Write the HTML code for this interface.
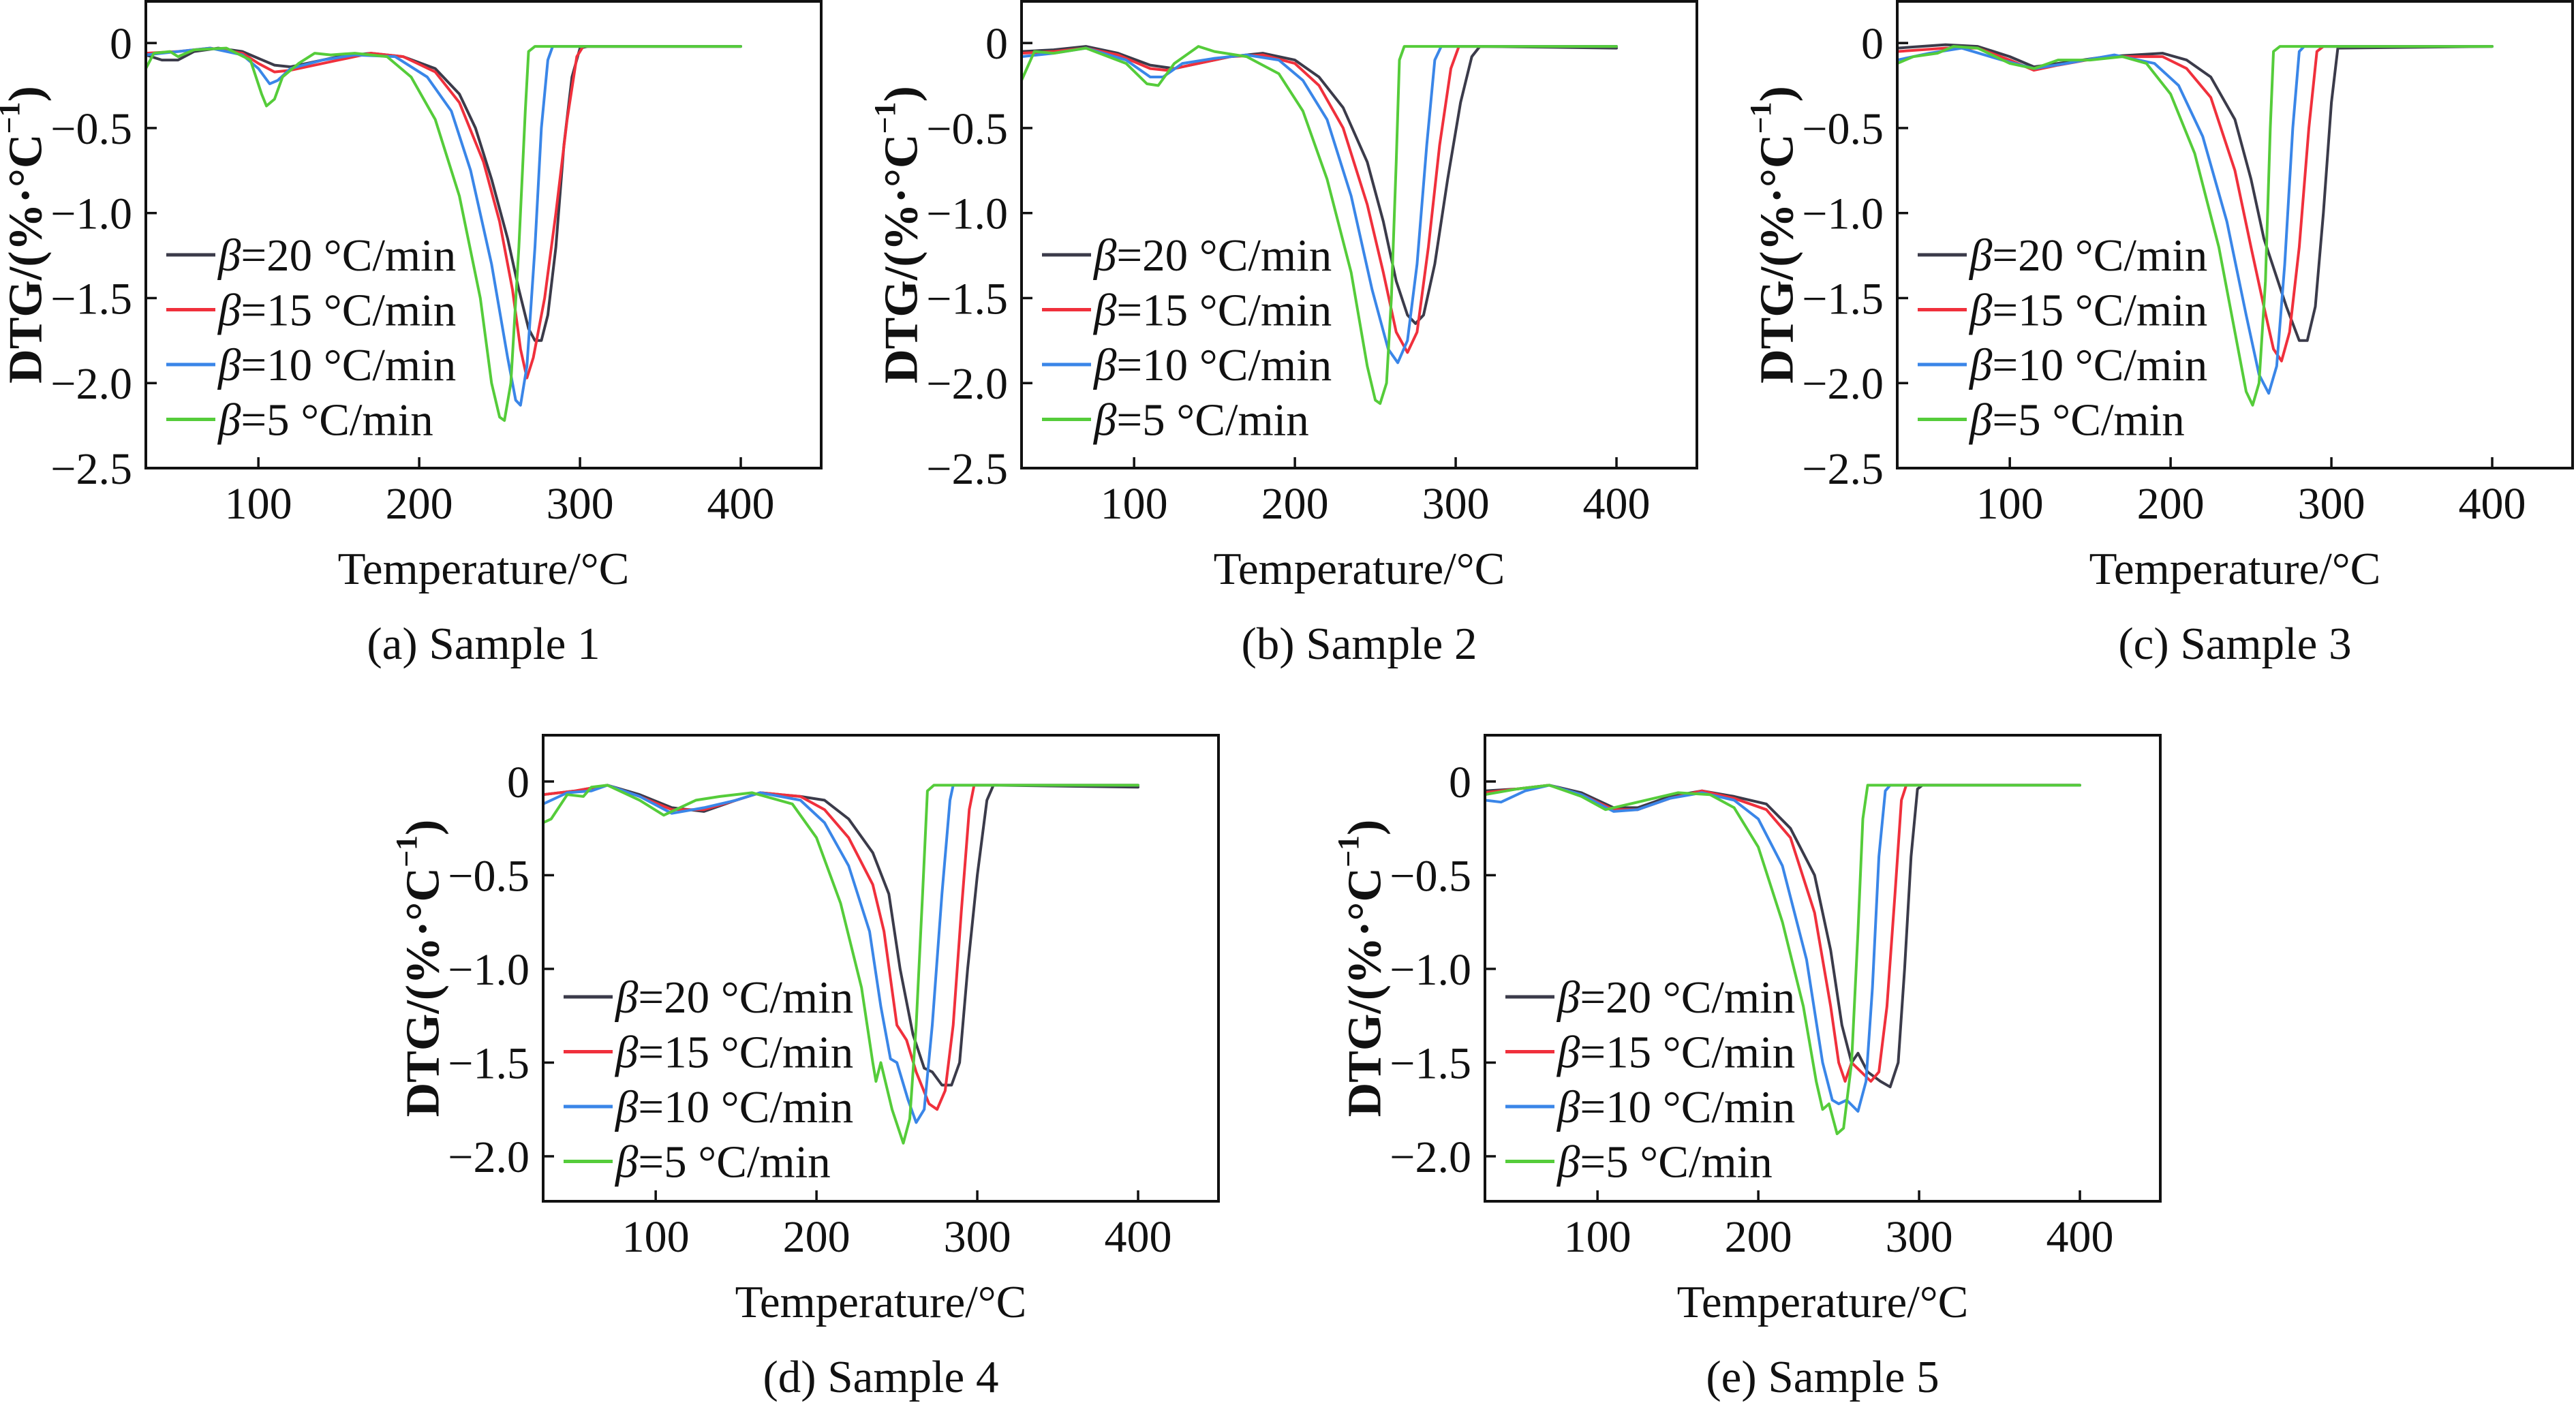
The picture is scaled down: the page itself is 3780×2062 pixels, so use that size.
<!DOCTYPE html>
<html><head><meta charset="utf-8"><title>DTG curves</title>
<style>
html,body{margin:0;padding:0;background:#fff;}
svg{display:block;}
text{font-family:"Liberation Serif",serif;fill:#111;}
</style></head>
<body>
<svg id="fig" width="3780" height="2062" viewBox="0 0 3780 2062" xmlns="http://www.w3.org/2000/svg"></svg>
<script>
// ---- data: [temperature °C, DTG %/°C] ----
const betaLabels = ["20", "15", "10", "5"];
const seriesColors = ["#3b3b4a", "#f0303c", "#3a86e8", "#55cc3a"];
const xTicks = [100, 200, 300, 400];
const yTicksABC = [0, -0.5, -1.0, -1.5, -2.0, -2.5];
const yTicksDE = [0, -0.5, -1.0, -1.5, -2.0];

const s1_b20 = [[30,-0.07],[40,-0.1],[50,-0.1],[60,-0.05],[75,-0.03],[90,-0.05],[100,-0.09],[110,-0.13],[120,-0.14],[135,-0.11],[150,-0.08],[170,-0.06],[190,-0.08],[210,-0.15],[225,-0.3],[235,-0.5],[245,-0.8],[255,-1.15],[262,-1.45],[268,-1.68],[272,-1.75],[276,-1.75],[280,-1.6],[285,-1.2],[290,-0.6],[295,-0.2],[300,-0.03],[305,-0.02],[400,-0.02]];
const s1_b15 = [[30,-0.06],[50,-0.05],[70,-0.03],[90,-0.06],[100,-0.12],[110,-0.17],[120,-0.16],[135,-0.13],[150,-0.1],[170,-0.06],[190,-0.08],[210,-0.17],[225,-0.35],[240,-0.7],[250,-1.05],[258,-1.45],[263,-1.8],[267,-1.97],[271,-1.85],[278,-1.5],[285,-1.0],[292,-0.45],[298,-0.08],[302,-0.02],[400,-0.02]];
const s1_b10 = [[30,-0.07],[50,-0.05],[70,-0.03],[90,-0.07],[100,-0.15],[107,-0.24],[112,-0.22],[120,-0.15],[140,-0.1],[160,-0.07],[185,-0.08],[205,-0.2],[220,-0.4],[232,-0.75],[245,-1.3],[255,-1.85],[260,-2.1],[263,-2.13],[267,-1.9],[272,-1.2],[276,-0.5],[280,-0.1],[283,-0.02],[400,-0.02]];
const s1_b5 = [[30,-0.15],[35,-0.06],[45,-0.05],[50,-0.08],[60,-0.04],[80,-0.03],[95,-0.1],[102,-0.3],[105,-0.37],[110,-0.33],[115,-0.2],[125,-0.12],[135,-0.06],[145,-0.07],[160,-0.06],[180,-0.08],[195,-0.2],[210,-0.45],[225,-0.9],[238,-1.5],[245,-2.0],[250,-2.2],[253,-2.22],[257,-2.0],[262,-1.2],[266,-0.4],[268,-0.05],[272,-0.02],[400,-0.02]];

const s2_b20 = [[30,-0.05],[50,-0.04],[70,-0.02],[90,-0.06],[110,-0.13],[125,-0.15],[140,-0.12],[160,-0.08],[180,-0.06],[200,-0.1],[215,-0.2],[230,-0.38],[245,-0.7],[255,-1.05],[263,-1.4],[270,-1.6],[275,-1.65],[280,-1.6],[287,-1.3],[295,-0.8],[303,-0.35],[310,-0.08],[315,-0.02],[400,-0.03]];
const s2_b15 = [[30,-0.06],[50,-0.05],[70,-0.03],[90,-0.07],[110,-0.15],[120,-0.16],[140,-0.12],[160,-0.08],[180,-0.07],[200,-0.12],[215,-0.25],[230,-0.5],[245,-0.95],[255,-1.35],[263,-1.7],[270,-1.82],[276,-1.7],[283,-1.2],[290,-0.6],[297,-0.15],[302,-0.02],[400,-0.02]];
const s2_b10 = [[30,-0.08],[50,-0.06],[70,-0.03],[95,-0.1],[110,-0.2],[118,-0.2],[130,-0.12],[150,-0.09],[170,-0.07],[190,-0.1],[205,-0.22],[220,-0.45],[235,-0.9],[248,-1.45],[258,-1.8],[264,-1.88],[270,-1.75],[276,-1.3],[282,-0.6],[287,-0.1],[291,-0.02],[400,-0.02]];
const s2_b5 = [[30,-0.22],[38,-0.05],[50,-0.06],[70,-0.03],[95,-0.12],[108,-0.24],[115,-0.25],[125,-0.12],[140,-0.02],[150,-0.05],[170,-0.08],[190,-0.18],[205,-0.4],[220,-0.8],[235,-1.35],[245,-1.9],[250,-2.1],[253,-2.12],[257,-2.0],[260,-1.5],[263,-0.7],[265,-0.1],[268,-0.02],[400,-0.02]];

const s3_b20 = [[30,-0.03],[60,-0.01],[80,-0.02],[100,-0.08],[115,-0.14],[130,-0.12],[160,-0.08],[195,-0.06],[210,-0.1],[225,-0.2],[240,-0.45],[250,-0.8],[258,-1.15],[265,-1.35],[272,-1.55],[280,-1.75],[285,-1.75],[290,-1.55],[295,-1.0],[300,-0.35],[304,-0.03],[400,-0.02]];
const s3_b15 = [[30,-0.05],[60,-0.03],[80,-0.03],[100,-0.1],[115,-0.16],[130,-0.13],[160,-0.08],[195,-0.08],[210,-0.15],[225,-0.32],[240,-0.75],[250,-1.2],[258,-1.55],[264,-1.8],[269,-1.87],[274,-1.7],[280,-1.2],[286,-0.5],[291,-0.05],[295,-0.02],[400,-0.02]];
const s3_b10 = [[30,-0.1],[50,-0.06],[70,-0.03],[95,-0.1],[115,-0.15],[135,-0.12],[165,-0.07],[190,-0.12],[205,-0.25],[220,-0.55],[235,-1.05],[247,-1.6],[255,-1.95],[261,-2.06],[266,-1.9],[271,-1.3],[276,-0.5],[280,-0.05],[283,-0.02],[400,-0.02]];
const s3_b5 = [[30,-0.12],[40,-0.08],[55,-0.06],[65,-0.02],[80,-0.03],[100,-0.12],[115,-0.15],[130,-0.1],[150,-0.1],[170,-0.08],[185,-0.12],[200,-0.3],[215,-0.65],[230,-1.2],[240,-1.7],[247,-2.05],[251,-2.13],[255,-2.0],[259,-1.4],[262,-0.5],[264,-0.05],[268,-0.02],[400,-0.02]];

const s4_b20 = [[30,-0.07],[50,-0.05],[70,-0.02],[90,-0.07],[110,-0.14],[130,-0.16],[150,-0.1],[165,-0.06],[190,-0.08],[205,-0.1],[220,-0.2],[235,-0.38],[245,-0.6],[252,-1.0],[260,-1.35],[267,-1.53],[272,-1.55],[278,-1.62],[284,-1.62],[289,-1.5],[294,-1.0],[300,-0.5],[306,-0.1],[310,-0.02],[400,-0.03]];
const s4_b15 = [[30,-0.07],[50,-0.05],[70,-0.02],[90,-0.08],[110,-0.15],[130,-0.15],[150,-0.1],[165,-0.06],[190,-0.08],[205,-0.15],[220,-0.3],[235,-0.55],[242,-0.8],[250,-1.3],[256,-1.38],[262,-1.55],[270,-1.72],[275,-1.75],[280,-1.65],[285,-1.3],[290,-0.7],[295,-0.15],[298,-0.02],[400,-0.02]];
const s4_b10 = [[30,-0.12],[45,-0.06],[60,-0.05],[70,-0.02],[90,-0.08],[110,-0.17],[130,-0.14],[150,-0.1],[165,-0.06],[190,-0.1],[205,-0.22],[220,-0.45],[233,-0.8],[240,-1.2],[246,-1.48],[250,-1.5],[257,-1.7],[262,-1.82],[267,-1.75],[272,-1.3],[278,-0.6],[283,-0.1],[285,-0.02],[400,-0.02]];
const s4_b5 = [[30,-0.22],[35,-0.2],[45,-0.07],[55,-0.08],[60,-0.03],[70,-0.02],[90,-0.1],[105,-0.18],[115,-0.14],[125,-0.1],[140,-0.08],[160,-0.06],[185,-0.12],[200,-0.3],[215,-0.65],[228,-1.1],[235,-1.5],[237,-1.6],[240,-1.5],[247,-1.75],[254,-1.93],[258,-1.8],[262,-1.3],[266,-0.6],[269,-0.05],[273,-0.02],[400,-0.02]];

const s5_b20 = [[30,-0.05],[50,-0.04],[70,-0.02],[90,-0.06],[110,-0.14],[125,-0.14],[145,-0.08],[165,-0.05],[185,-0.08],[205,-0.12],[220,-0.25],[235,-0.5],[245,-0.9],[252,-1.3],[258,-1.5],[262,-1.45],[268,-1.55],[276,-1.6],[282,-1.63],[287,-1.5],[291,-1.0],[295,-0.4],[299,-0.04],[302,-0.02],[400,-0.02]];
const s5_b15 = [[30,-0.06],[50,-0.04],[70,-0.02],[90,-0.07],[110,-0.15],[125,-0.15],[145,-0.09],[165,-0.05],[185,-0.09],[205,-0.15],[220,-0.3],[235,-0.7],[245,-1.2],[250,-1.5],[254,-1.6],[258,-1.5],[264,-1.55],[270,-1.6],[275,-1.55],[280,-1.2],[285,-0.6],[289,-0.1],[292,-0.02],[400,-0.02]];
const s5_b10 = [[30,-0.1],[40,-0.11],[55,-0.05],[70,-0.02],[90,-0.07],[110,-0.16],[125,-0.15],[145,-0.09],[165,-0.06],[185,-0.1],[200,-0.2],[215,-0.45],[230,-0.95],[240,-1.5],[246,-1.7],[250,-1.72],[255,-1.7],[262,-1.76],[267,-1.6],[271,-1.1],[275,-0.4],[279,-0.05],[282,-0.02],[400,-0.02]];
const s5_b5 = [[30,-0.07],[50,-0.04],[70,-0.02],[90,-0.08],[105,-0.15],[115,-0.13],[130,-0.1],[150,-0.06],[170,-0.07],[185,-0.14],[200,-0.35],[215,-0.75],[228,-1.2],[236,-1.6],[240,-1.75],[244,-1.72],[249,-1.88],[253,-1.85],[258,-1.5],[262,-0.8],[265,-0.2],[268,-0.02],[400,-0.02]];

const panels = [
  {id:"a", cap:"(a) Sample 1", L:214, T:2, B:687, ymax:0.245, ymin:-2.5, ticks:yTicksABC, legT:372, series:[s1_b20,s1_b15,s1_b10,s1_b5]},
  {id:"b", cap:"(b) Sample 2", L:1499, T:2, B:687, ymax:0.245, ymin:-2.5, ticks:yTicksABC, legT:372, series:[s2_b20,s2_b15,s2_b10,s2_b5]},
  {id:"c", cap:"(c) Sample 3", L:2784, T:2, B:687, ymax:0.245, ymin:-2.5, ticks:yTicksABC, legT:372, series:[s3_b20,s3_b15,s3_b10,s3_b5]},
  {id:"d", cap:"(d) Sample 4", L:797, T:1079, B:1763, ymax:0.247, ymin:-2.24, ticks:yTicksDE, legT:384, series:[s4_b20,s4_b15,s4_b10,s4_b5]},
  {id:"e", cap:"(e) Sample 5", L:2179, T:1079, B:1763, ymax:0.247, ymin:-2.24, ticks:yTicksDE, legT:384, series:[s5_b20,s5_b15,s5_b10,s5_b5]}
];
const XMIN = 30, XMAX = 450, PLOT_W = 991;

const NS = "http://www.w3.org/2000/svg";
const svg = document.getElementById("fig");
function mk(tag, attrs, parent) {
  const e = document.createElementNS(NS, tag);
  for (const k in attrs) e.setAttribute(k, attrs[k]);
  parent.appendChild(e);
  return e;
}
function fmt(v) {
  if (v === 0) return "0";
  return "\u2212" + Math.abs(v).toFixed(1);
}

panels.forEach(p => {
  const R = p.L + PLOT_W;
  const xs = t => p.L + (t - XMIN) / (XMAX - XMIN) * (R - p.L);
  const ys = v => p.T + (p.ymax - v) / (p.ymax - p.ymin) * (p.B - p.T);
  const g = mk("g", {}, svg);
  
  

  const sg = mk("g", {}, g);
  
  
  p.series.forEach((data, i) => {
    const pts = data.map(d => xs(d[0]).toFixed(1) + "," + ys(d[1]).toFixed(1)).join(" ");
    const pl = mk("polyline", {points: pts, fill: "none", stroke: seriesColors[i], "stroke-width": 4, "stroke-linejoin": "round", "stroke-linecap": "round"}, sg);
    
    
  });

  const fr = mk("rect", {x: p.L, y: p.T, width: R - p.L, height: p.B - p.T, fill: "none", stroke: "#111", "stroke-width": 4}, g);
  
  

  xTicks.forEach(t => {
    const x = xs(t);
    const tk = mk("line", {x1: x, x2: x, y1: p.B, y2: p.B - 16, stroke: "#111", "stroke-width": 3.5}, g);
    
    
    const tl = mk("text", {x: x, y: p.B + 74, "text-anchor": "middle", "font-size": 66}, g);
    tl.textContent = t;
    
    
  });
  p.ticks.forEach(v => {
    const y = ys(v);
    const tk = mk("line", {x1: p.L, x2: p.L + 16, y1: y, y2: y, stroke: "#111", "stroke-width": 3.5}, g);
    
    
    const tl = mk("text", {x: p.L - 20, y: y + 23, "text-anchor": "end", "font-size": 66}, g);
    tl.textContent = fmt(v);
    
    
  });

  const cx = (p.L + R) / 2;
  const xt = mk("text", {x: cx, y: p.B + 170, "text-anchor": "middle", "font-size": 67}, g);
  xt.textContent = "Temperature/\u00B0C";
  
  

  const cy = (p.T + p.B) / 2;
  const yx = p.L - 176;
  const yt = mk("text", {x: yx, y: cy, "text-anchor": "middle", "font-size": 70, "font-weight": "bold", transform: "rotate(-90 " + yx + " " + cy + ")", "dominant-baseline": "central"}, g);
  yt.innerHTML = 'DTG/(%\u00B7\u00B0C<tspan baseline-shift="super" font-size="44">\u22121</tspan>)';
  
  

  const cap = mk("text", {x: cx, y: p.B + 280, "text-anchor": "middle", "font-size": 67}, g);
  cap.textContent = p.cap;
  
  

  const lg = mk("g", {}, g);
  
  
  betaLabels.forEach((b, i) => {
    const y = p.T + p.legT + i * 80.5;
    const ln = mk("line", {x1: p.L + 30, x2: p.L + 102, y1: y, y2: y, stroke: seriesColors[i], "stroke-width": 5}, lg);
    
    
    const tx = mk("text", {x: p.L + 106, y: y + 23, "font-size": 67}, lg);
    tx.innerHTML = '<tspan font-style="italic">\u03B2</tspan>=' + b + ' \u00B0C/min';
    
    
  });
});
</script>
</body></html>
